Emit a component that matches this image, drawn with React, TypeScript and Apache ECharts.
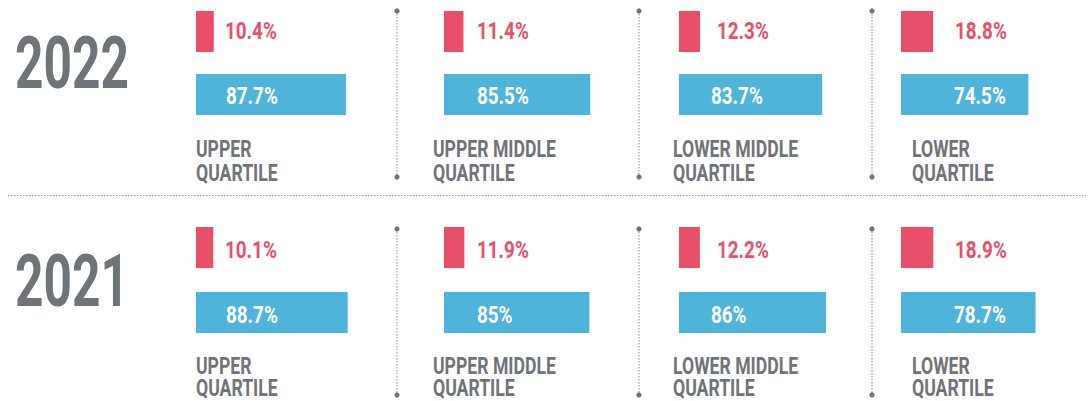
import React, { useEffect, useRef } from "react";
import * as echarts from "echarts";

// ---- data ----
const years = ["2022", "2021"];
const quartileLine1 = ["UPPER", "UPPER MIDDLE", "LOWER MIDDLE", "LOWER"];
const quartileLine2 = ["QUARTILE", "QUARTILE", "QUARTILE", "QUARTILE"];
const pinkValues2022 = [10.4, 11.4, 12.3, 18.8];
const blueValues2022 = [87.7, 85.5, 83.7, 74.5];
const pinkValues2021 = [10.1, 11.9, 12.2, 18.9];
const blueValues2021 = [88.7, 85, 86, 78.7];
const barCategories = ["pink", "blue"];

// ---- layout / style ----
const PINK = "#E94F6A";
const BLUE = "#50B3DA";
const GREY = "#6F7479";
const FONT = "Roboto, 'Liberation Sans', sans-serif";
const colBarLeft = [196, 444, 679, 901];
const colTextLeft = [196, 433, 673, 912];
const pinkLabelLeft = [225, 477, 717, 955];
const blueLabelLeft = [226, 477, 711, 954];
const rowPinkCenter = [28.5, 247.5];
const band = 65;
const rowYearCenter = [63.5, 282];
const rowQuartileCenter1 = [148.5, 365];
const rowQuartileCenter2 = [172, 387.5];
const dividerX = [397, 639, 872];
const rowLineTop = [11, 229];
const rowLineBottom = [177, 395];

export default function App() {
  const ref = useRef<HTMLDivElement>(null);
  useEffect(() => {
    document.body.style.margin = "0";
    const chart = echarts.init(ref.current!, undefined, { renderer: "svg" });
    const pinkRows = [pinkValues2022, pinkValues2021];
    const blueRows = [blueValues2022, blueValues2021];
    const grids: any[] = [];
    const xAxes: any[] = [];
    const yAxes: any[] = [];
    const series: any[] = [];
    const graphic: any[] = [];
    const valueText = (x: number, y: number, v: number, color: string) => ({
      type: "text",
      x,
      y,
      scaleX: 0.82,
      z: 10,
      style: {
        text: v + "%",
        fill: color,
        fontSize: 23,
        fontWeight: "bold",
        fontFamily: FONT,
        align: "left",
        verticalAlign: "middle",
      },
    });
    const labelText = (x: number, y: number, t: string) => ({
      type: "text",
      x,
      y,
      scaleX: 0.72,
      style: {
        text: t,
        fill: GREY,
        fontSize: 24.5,
        fontWeight: "bold",
        fontFamily: FONT,
        align: "left",
        verticalAlign: "middle",
      },
    });
    let gi = 0;
    for (let r = 0; r < 2; r++) {
      for (let c = 0; c < 4; c++) {
        grids.push({
          left: colBarLeft[c],
          width: 171,
          top: rowPinkCenter[r] - band / 2,
          height: band * 2,
        });
        xAxes.push({ type: "value", gridIndex: gi, min: 0, max: 100, show: false });
        yAxes.push({
          type: "category",
          gridIndex: gi,
          data: barCategories,
          inverse: true,
          show: false,
        });
        series.push({
          type: "bar",
          xAxisIndex: gi,
          yAxisIndex: gi,
          barWidth: 41,
          silent: true,
          data: [
            { value: pinkRows[r][c], itemStyle: { color: PINK } },
            { value: blueRows[r][c], itemStyle: { color: BLUE } },
          ],
        });
        gi++;
        graphic.push(valueText(pinkLabelLeft[c], rowPinkCenter[r] + 2.5, pinkRows[r][c], PINK));
        graphic.push(valueText(blueLabelLeft[c], rowPinkCenter[r] + band + 2.5, blueRows[r][c], "#ffffff"));
        graphic.push(labelText(colTextLeft[c], rowQuartileCenter1[r], quartileLine1[c]));
        graphic.push(labelText(colTextLeft[c], rowQuartileCenter2[r], quartileLine2[c]));
      }
      graphic.push({
        type: "text",
        x: 15,
        y: rowYearCenter[r],
        scaleX: 0.69,
        style: {
          text: years[r],
          fill: GREY,
          fontSize: 72,
          fontWeight: "bold",
          fontFamily: FONT,
          align: "left",
          verticalAlign: "middle",
        },
      });
      for (const x of dividerX) {
        graphic.push({
          type: "line",
          shape: { x1: x, y1: rowLineTop[r], x2: x, y2: rowLineBottom[r] },
          style: { stroke: "#9a9ea2", lineWidth: 1.2, lineDash: [1.5, 1.5] },
        });
        graphic.push({ type: "circle", shape: { cx: x, cy: rowLineTop[r], r: 2.6 }, style: { fill: GREY } });
        graphic.push({ type: "circle", shape: { cx: x, cy: rowLineBottom[r], r: 2.6 }, style: { fill: GREY } });
      }
    }
    graphic.push({
      type: "line",
      shape: { x1: 8, y1: 195.5, x2: 1086, y2: 195.5 },
      style: { stroke: "#9a9ea2", lineWidth: 1.2, lineDash: [1.5, 1.5] },
    });
    chart.setOption({
      animation: false,
      grid: grids,
      xAxis: xAxes,
      yAxis: yAxes,
      series,
      graphic,
    });
    return () => chart.dispose();
  }, []);
  return <div ref={ref} style={{ width: 1089, height: 401 }} />;
}
